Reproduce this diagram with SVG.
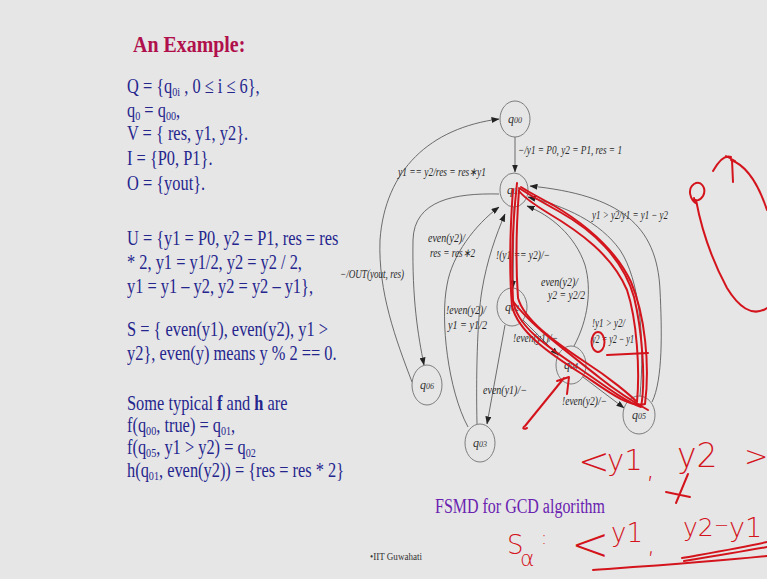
<svg xmlns="http://www.w3.org/2000/svg" width="767" height="579" viewBox="0 0 767 579">
<defs>
<marker id="arr" markerUnits="userSpaceOnUse" markerWidth="8" markerHeight="6" refX="7.5" refY="3" orient="auto">
<path d="M0,0 L8,3 L0,6 z" fill="#222"/>
</marker>
<style>
.bg{fill:#e6e6e6}
.lt{font-family:"Liberation Serif","Times New Roman",serif;font-size:21px;fill:#25258e}
.sub{font-size:13px}
.title{font-family:"Liberation Serif","Times New Roman",serif;font-size:24px;font-weight:bold;fill:#b0104c}
.node ellipse{fill:none;stroke:#707070;stroke-width:0.9}
.nl{font-family:"Liberation Serif","Times New Roman",serif;font-style:italic;font-size:12px;fill:#333;text-anchor:middle}
.nl .s{font-size:8px}
.edge{fill:none;stroke:#555;stroke-width:0.85}
.el{font-family:"Liberation Serif","Times New Roman",serif;font-style:italic;font-size:12px;fill:#2a2a2a}
.cap{font-family:"Liberation Serif","Times New Roman",serif;font-size:20px;fill:#6a22b0}
.foot{font-family:"Liberation Serif","Times New Roman",serif;font-size:10px;fill:#333}
.ink{fill:none;stroke:#d4141c;stroke-width:2;stroke-linecap:round;stroke-linejoin:round}
.hw{font-family:"DejaVu Sans","Liberation Sans",sans-serif;font-weight:200;fill:#d4141c}
</style>
</defs>
<rect class="bg" x="0" y="0" width="767" height="579"/>

<g id="left-text">
<g transform="translate(133 0) scale(0.83 1)">
<text class="title" x="0" y="52">An Example:</text>
</g>
<g transform="translate(127 0) scale(0.78 1)">
<text class="lt" x="0" y="93">Q = {q<tspan class="sub" dy="3">0i</tspan><tspan dy="-3"> , 0 ≤ i ≤ 6},</tspan></text>
<text class="lt" x="0" y="117">q<tspan class="sub" dy="3">0</tspan><tspan dy="-3"> = q</tspan><tspan class="sub" dy="3">00</tspan><tspan dy="-3">,</tspan></text>
<text class="lt" x="0" y="140">V = { res, y1, y2}.</text>
<text class="lt" x="0" y="165">I = {P0, P1}.</text>
<text class="lt" x="0" y="190">O = {yout}.</text>
<text class="lt" x="0" y="245">U = {y1 = P0, y2 = P1, res = res</text>
<text class="lt" x="0" y="269">* 2, y1 = y1/2, y2 = y2 / 2,</text>
<text class="lt" x="0" y="293">y1 = y1 – y2, y2 = y2 – y1},</text>
<text class="lt" x="0" y="336">S = { even(y1), even(y2), y1 &gt;</text>
<text class="lt" x="0" y="360">y2}, even(y) means y % 2 == 0.</text>
<text class="lt" x="0" y="410">Some typical <tspan font-weight="bold">f</tspan> and <tspan font-weight="bold">h</tspan> are</text>
<text class="lt" x="0" y="432">f(q<tspan class="sub" dy="3">00</tspan><tspan dy="-3">, true) = q</tspan><tspan class="sub" dy="3">01</tspan><tspan dy="-3">,</tspan></text>
<text class="lt" x="0" y="454">f(q<tspan class="sub" dy="3">05</tspan><tspan dy="-3">, y1 &gt; y2) = q</tspan><tspan class="sub" dy="3">02</tspan></text>
<text class="lt" x="0" y="477">h(q<tspan class="sub" dy="3">01</tspan><tspan dy="-3">, even(y2)) = {res = res * 2}</tspan></text>
</g>
</g>

<g id="edges">
<path class="edge" d="M515,137 L515,172" marker-end="url(#arr)"/>
<path class="edge" d="M412,382 C396,340 378,292 380,240 C385,170 430,128 499,119" marker-end="url(#arr)"/>
<path class="edge" d="M499,194 C455,193 414,200 413,240 C412,300 418,335 424,365" marker-end="url(#arr)"/>
<path class="edge" d="M468,427 C448,390 440,320 447,285 C452,255 475,225 499,207" marker-end="url(#arr)"/>
<path class="edge" d="M477,424 C476,380 477,320 482,290 C487,260 496,235 505,214" marker-end="url(#arr)"/>
<path class="edge" d="M514,207 L513,288" marker-end="url(#arr)"/>
<path class="edge" d="M505,325 L487,424" marker-end="url(#arr)"/>
<path class="edge" d="M523,320 L558,355" marker-end="url(#arr)"/>
<path class="edge" d="M583,377 L624,408" marker-end="url(#arr)"/>
<path class="edge" d="M574,346 C588,320 592,290 585,265 C575,235 550,215 527,206" marker-end="url(#arr)"/>
<path class="edge" d="M652,402 C663,380 662,330 660,290 C657,225 620,195 530,186" marker-end="url(#arr)"/>
<path class="edge" d="M640,396 C645,340 640,280 620,250 C600,222 565,206 528,197" marker-end="url(#arr)"/>
</g>

<g id="edge-labels">
<text class="el" x="518" y="154" textLength="104" lengthAdjust="spacingAndGlyphs">−/y1 = P0, y2 = P1, res = 1</text>
<text class="el" x="398" y="176" textLength="88" lengthAdjust="spacingAndGlyphs">y1 == y2/res = res∗y1</text>
<text class="el" x="340" y="278" textLength="64" lengthAdjust="spacingAndGlyphs">−/OUT(yout, res)</text>
<text class="el" x="428" y="242" textLength="37" lengthAdjust="spacingAndGlyphs">even(y2)/</text>
<text class="el" x="430" y="257" textLength="45" lengthAdjust="spacingAndGlyphs">res = res∗2</text>
<text class="el" x="496" y="259" textLength="54" lengthAdjust="spacingAndGlyphs">!(y1 == y2)/−</text>
<text class="el" x="541" y="286" textLength="37" lengthAdjust="spacingAndGlyphs">even(y2)/</text>
<text class="el" x="548" y="299" textLength="37" lengthAdjust="spacingAndGlyphs">y2 = y2/2</text>
<text class="el" x="446" y="314" textLength="40" lengthAdjust="spacingAndGlyphs">!even(y2)/</text>
<text class="el" x="448" y="329" textLength="39" lengthAdjust="spacingAndGlyphs">y1 = y1/2</text>
<text class="el" x="592" y="327" textLength="33" lengthAdjust="spacingAndGlyphs">!y1 &gt; y2/</text>
<text class="el" x="592" y="343" textLength="42" lengthAdjust="spacingAndGlyphs">y2 = y2 − y1</text>
<text class="el" x="513" y="342" textLength="45" lengthAdjust="spacingAndGlyphs">!even(y1)/−</text>
<text class="el" x="483" y="394" textLength="44" lengthAdjust="spacingAndGlyphs">even(y1)/−</text>
<text class="el" x="562" y="405" textLength="45" lengthAdjust="spacingAndGlyphs">!even(y2)/−</text>
<text class="el" x="592" y="219" textLength="76" lengthAdjust="spacingAndGlyphs">y1 &gt; y2/y1 = y1 − y2</text>
</g>

<g id="q00" class="node"><ellipse cx="515" cy="119" rx="15" ry="18"/><text class="nl" x="515" y="123">q<tspan class="s">00</tspan></text></g>
<g id="q01" class="node"><ellipse cx="514" cy="190" rx="14" ry="17"/><text class="nl" x="514" y="194">q<tspan class="s">01</tspan></text></g>
<g id="q02" class="node"><ellipse cx="512" cy="307" rx="15" ry="19"/><text class="nl" x="512" y="311">q<tspan class="s">02</tspan></text></g>
<g id="q03" class="node"><ellipse cx="480" cy="443" rx="15" ry="19"/><text class="nl" x="480" y="447">q<tspan class="s">03</tspan></text></g>
<g id="q04" class="node"><ellipse cx="571" cy="365" rx="15" ry="19"/><text class="nl" x="571" y="369">q<tspan class="s">04</tspan></text></g>
<g id="q05" class="node"><ellipse cx="639" cy="415" rx="16" ry="19"/><text class="nl" x="639" y="419">q<tspan class="s">05</tspan></text></g>
<g id="q06" class="node"><ellipse cx="427" cy="385" rx="15" ry="20"/><text class="nl" x="427" y="389">q<tspan class="s">06</tspan></text></g>

<text class="cap" x="435" y="513" textLength="170" lengthAdjust="spacingAndGlyphs">FSMD for GCD algorithm</text>
<text class="foot" x="370" y="560" textLength="52" lengthAdjust="spacingAndGlyphs">•IIT Guwahati</text>

<g id="annotations">
<path class="ink" d="M517,183 C513,220 511,262 513,300 C516,325 545,345 576,366 C602,384 626,402 641,407 C646,380 642,330 634,297 C623,258 592,230 560,212 C542,202 528,194 519,188"/>
<path class="ink" d="M513,189 C510,230 509,270 512,306 C518,332 550,354 582,374 C606,390 628,408 645,404 C650,365 645,315 631,282 C616,250 585,224 553,205 C538,197 527,191 521,187"/>
<path class="ink" d="M519,190 C516,230 516,270 518,298 C524,320 555,342 585,362 C610,378 630,395 637,402 C640,370 637,320 627,290 C612,255 580,232 548,213 C535,205 524,197 520,192"/>
<path class="ink" d="M512,300 C530,325 565,350 600,378 C615,390 630,400 648,410"/>
<ellipse class="ink" cx="598" cy="342" rx="6.5" ry="10"/>
<path class="ink" d="M607,355 L648,353"/>
<path class="ink" d="M527,428 C523,430 522,428 525,426 L564,378 M557,381 L569,377 L567,394"/>
<path class="ink" d="M697,204 C690,200 687,189 694,184 C701,180 707,188 703,196 C700,201 694,202 694,198 M696,200 C702,232 713,262 727,288 C738,306 752,318 767,308"/>
<path class="ink" d="M713,171 C718,162 724,154 731,157 M726,156 L735,161 M732,160 L733,182"/>
<path class="ink" d="M731,160 C745,165 757,180 767,210"/>
<path class="ink" d="M688,474 L676,503 M666,492 L690,497"/>
<path class="ink" d="M593,570 C650,566 710,562 767,556"/>
<path class="ink" d="M682,558 C710,553 740,548 767,542"/>
<path class="ink" d="M684,561 C715,556 745,551 767,547"/>
<text class="hw" x="578" y="474" font-size="38">&lt;</text>
<text class="hw" x="607" y="470" font-size="29">y1</text>
<text class="hw" x="646" y="478" font-size="28">,</text>
<text class="hw" x="677" y="467" font-size="33">y2</text>
<text class="hw" x="744" y="466" font-size="29">&gt;</text>
<text class="hw" x="507" y="554" font-size="26">S</text>
<text class="hw" x="520" y="566" font-size="22">α</text>
<text class="hw" x="541" y="544" font-size="18">:</text>
<text class="hw" x="571" y="560" font-size="46">&lt;</text>
<text class="hw" x="611" y="542" font-size="26">y1</text>
<text class="hw" x="647" y="553" font-size="26">,</text>
<text class="hw" x="683" y="536" font-size="25">y2</text>
<text class="hw" x="714" y="531" font-size="18">−</text>
<text class="hw" x="729" y="537" font-size="27">y1</text>
</g>
</svg>
